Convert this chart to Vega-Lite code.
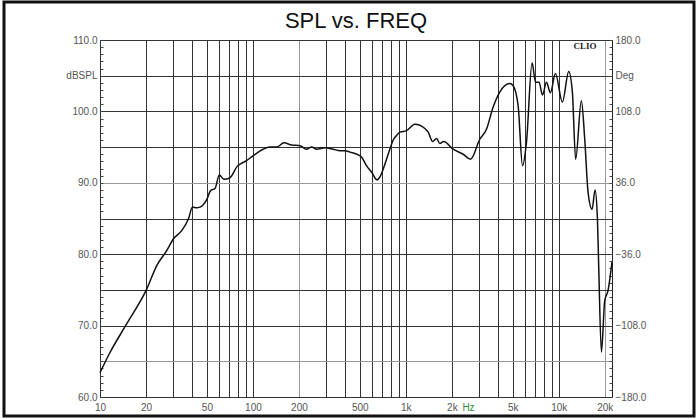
{
  "$schema": "https://vega.github.io/schema/vega-lite/v6.json",
  "width": 512,
  "height": 357,
  "autosize": "none",
  "padding": {"left": 100, "top": 40, "right": 86, "bottom": 22},
  "background": "white",
  "title": {"text": "SPL vs. FREQ", "fontSize": 22, "font": "Liberation Sans", "fontWeight": "normal", "color": "#111", "offset": 7, "dy": 39, "anchor": "middle"},
  "config": {
    "view": {"stroke": "#222", "strokeWidth": 1},
    "axis": {"labelFont": "Liberation Sans Narrow, Liberation Sans", "labelFontSize": 10, "labelColor": "#555", "title": null, "labelOverlap": false, "labelFlush": false, "labelBound": false, "domain": false}
  },
  "layer": [
    {
      "data": {"values": [
        {"f": 10, "db": 63.4}, {"f": 11.6, "db": 66.2}, {"f": 14.9, "db": 70.2}, {"f": 20.2, "db": 75.1},
        {"f": 23.5, "db": 78.4}, {"f": 27.3, "db": 80.5}, {"f": 30.1, "db": 82.1}, {"f": 34.2, "db": 83.3},
        {"f": 37.8, "db": 84.9}, {"f": 40.3, "db": 86.6}, {"f": 42.8, "db": 86.5}, {"f": 45.1, "db": 86.6},
        {"f": 49.8, "db": 87.6}, {"f": 52.9, "db": 88.9}, {"f": 56.5, "db": 89.2}, {"f": 60.3, "db": 91.1},
        {"f": 64.6, "db": 90.5}, {"f": 70.7, "db": 90.7}, {"f": 78.9, "db": 92.3}, {"f": 90.9, "db": 93.1},
        {"f": 100.5, "db": 93.8}, {"f": 116.7, "db": 94.7}, {"f": 129, "db": 95.0}, {"f": 143, "db": 95.0},
        {"f": 159.5, "db": 95.6}, {"f": 179, "db": 95.3}, {"f": 203, "db": 95.2}, {"f": 224, "db": 94.7},
        {"f": 242, "db": 95.0}, {"f": 261, "db": 94.7}, {"f": 296, "db": 94.9}, {"f": 335, "db": 94.7},
        {"f": 371, "db": 94.5}, {"f": 399, "db": 94.5}, {"f": 431, "db": 94.3}, {"f": 464, "db": 94.1},
        {"f": 513, "db": 93.6}, {"f": 553, "db": 92.4}, {"f": 597, "db": 91.5}, {"f": 648, "db": 90.4},
        {"f": 676, "db": 90.8}, {"f": 748, "db": 93.3}, {"f": 786, "db": 94.7}, {"f": 827, "db": 96.0},
        {"f": 868, "db": 96.6}, {"f": 914, "db": 97.1}, {"f": 1011, "db": 97.3}, {"f": 1146, "db": 98.2},
        {"f": 1332, "db": 97.6}, {"f": 1401, "db": 97.1}, {"f": 1496, "db": 95.8}, {"f": 1589, "db": 96.2},
        {"f": 1668, "db": 95.5}, {"f": 1772, "db": 95.8}, {"f": 2038, "db": 94.7}, {"f": 2371, "db": 94.0},
        {"f": 2648, "db": 93.3}, {"f": 3046, "db": 96.1}, {"f": 3369, "db": 97.5}, {"f": 3724, "db": 100.6},
        {"f": 4115, "db": 102.7}, {"f": 4784, "db": 103.9}, {"f": 5032, "db": 103.6}, {"f": 5425, "db": 100.8},
        {"f": 5796, "db": 92.4}, {"f": 6152, "db": 95.7}, {"f": 6696, "db": 106.8}, {"f": 7045, "db": 104.1},
        {"f": 7435, "db": 104.1}, {"f": 7827, "db": 102.3}, {"f": 8314, "db": 104.1}, {"f": 8824, "db": 102.6},
        {"f": 9512, "db": 105.3}, {"f": 10570, "db": 101.3}, {"f": 11620, "db": 105.6}, {"f": 12280, "db": 102.7},
        {"f": 12900, "db": 93.3}, {"f": 14060, "db": 101.5}, {"f": 14790, "db": 96.1}, {"f": 15550, "db": 88.7},
        {"f": 16520, "db": 86.3}, {"f": 17280, "db": 89.0}, {"f": 17910, "db": 84.9}, {"f": 18250, "db": 78.4},
        {"f": 19010, "db": 66.3}, {"f": 19990, "db": 73.5}, {"f": 21000, "db": 74.9}, {"f": 22300, "db": 78.9}
      ]},
      "mark": {"type": "line", "color": "#111", "strokeWidth": 1.5, "interpolate": "monotone"},
      "encoding": {
        "x": {"field": "f", "type": "quantitative", "scale": {"type": "log", "domain": [10, 22300], "nice": false},
          "axis": {
            "values": [10,20,30,40,50,60,70,80,90,100,200,300,400,500,600,700,800,900,1000,2000,3000,4000,5000,6000,7000,8000,9000,10000,20000,2550],
            "labelExpr": "datum.value === 2550 ? 'Hz' : (indexof([10,20,50,100,200,500], datum.value) >= 0 ? '' + datum.value : (indexof([1000,2000,5000,10000,20000], datum.value) >= 0 ? (datum.value/1000) + 'k' : ''))",
            "labelColor": {"condition": {"test": "datum.value === 2550", "value": "#2e8b3a"}, "value": "#555"},
            "ticks": false, "labelPadding": 5,
            "grid": true,
            "gridColor": {"condition": {"test": "datum.value === 200 || datum.value === 20000", "value": "#999"}, "value": "#333"},
            "gridOpacity": {"condition": {"test": "datum.value === 2550", "value": 0}, "value": 1}
          }},
        "y": {"field": "db", "type": "quantitative", "scale": {"domain": [60, 110], "nice": false, "zero": false},
          "axis": {
            "orient": "left",
            "values": [60,61,62,63,64,65,66,67,68,69,70,71,72,73,74,75,76,77,78,79,80,81,82,83,84,85,86,87,88,89,90,91,92,93,94,95,96,97,98,99,100,101,102,103,104,105,106,107,108,109,110],
            "labelExpr": "datum.value % 10 === 0 ? format(datum.value, '.1f') : (datum.value === 105 ? 'dBSPL' : '')",
            "ticks": true, "tickSize": -3, "tickColor": "#444", "labelPadding": 6,
            "grid": true,
            "gridColor": {"condition": {"test": "datum.value === 90 || datum.value === 65", "value": "#999"}, "value": "#333"},
            "gridOpacity": {"condition": {"test": "datum.value % 5 === 0", "value": 1}, "value": 0}
          }}
      }
    },
    {
      "data": {"values": [{}]},
      "mark": {"type": "point", "opacity": 0},
      "encoding": {
        "y": {"datum": 60, "type": "quantitative", "scale": {"domain": [60, 110], "nice": false, "zero": false},
          "axis": {
            "orient": "right",
            "values": [60,61,62,63,64,65,66,67,68,69,70,71,72,73,74,75,76,77,78,79,80,81,82,83,84,85,86,87,88,89,90,91,92,93,94,95,96,97,98,99,100,101,102,103,104,105,106,107,108,109,110],
            "labelExpr": "datum.value % 10 === 0 ? format(7.2 * datum.value - 612, '.1f') : (datum.value === 105 ? 'Deg' : '')",
            "ticks": true, "tickSize": -3, "tickColor": "#444", "labelPadding": 6, "grid": false
          }}
      }
    },
    {
      "data": {"values": [{}]},
      "mark": {"type": "text", "font": "Liberation Serif", "fontWeight": "bold", "fontSize": 9, "color": "#222"},
      "encoding": {
        "x": {"datum": 14860, "type": "quantitative", "scale": {"type": "log", "domain": [10, 22300], "nice": false}},
        "y": {"datum": 109.1, "type": "quantitative", "scale": {"domain": [60, 110], "nice": false, "zero": false}, "axis": null},
        "text": {"value": "CLIO"}
      }
    },
    {
      "data": {"values": [{}]},
      "mark": {"type": "rect", "fillOpacity": 0, "stroke": "#111", "strokeWidth": 3, "clip": false},
      "encoding": {
        "x": {"datum": 2.356, "type": "quantitative", "scale": {"type": "log", "domain": [10, 22300], "nice": false}},
        "x2": {"datum": 76650},
        "y": {"datum": 115.32, "type": "quantitative", "scale": {"domain": [60, 110], "nice": false, "zero": false}, "axis": null},
        "y2": {"datum": 57.34}
      }
    }
  ],
  "resolve": {"scale": {"y": "independent"}}
}
